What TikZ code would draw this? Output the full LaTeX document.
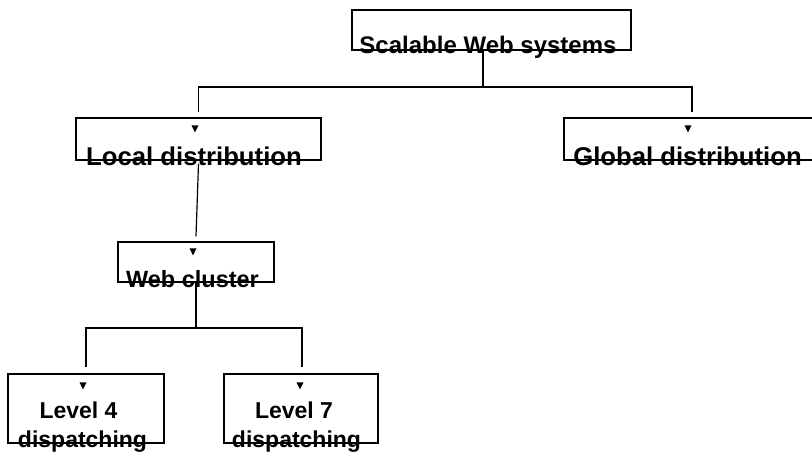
\documentclass[tikz,border=0pt]{standalone}
\usepackage{fontspec}
\setmainfont{Liberation Sans}
\usepackage{tikz}
\usetikzlibrary{positioning, calc}

\begin{document}
\begin{tikzpicture}[x=1pt, y=-1pt,
    box/.style={draw, line width=1.2pt, inner sep=0pt},
    lbl/.style={anchor=base, inner sep=0pt, font=\bfseries},
    link/.style={line width=1.2pt},
    tipmark/.style={fill=black}]
  \useasboundingbox (0,0) rectangle (812,452);

  % Root
  \node[box, minimum width=279pt, minimum height=40pt] (root) at (491.5,30) {};
  \node[lbl, font=\bfseries\fontsize{24}{28}\selectfont] (roottxt) at (488,54) {Scalable Web systems};

  % Local / global distribution
  \node[box, minimum width=245pt, minimum height=42pt] (loc) at (198.5,139) {};
  \node[lbl, font=\bfseries\fontsize{25.7}{30}\selectfont] (loctxt) at (194,165) {Local distribution};

  \node[box, minimum width=251pt, minimum height=42pt] (glob) at (689.5,139) {};
  \node[lbl, font=\bfseries\fontsize{25.7}{30}\selectfont] (globtxt) at (687.5,165) {Global distribution};

  % Web cluster
  \node[box, minimum width=156pt, minimum height=40pt] (clu) at (196,262) {};
  \node[lbl, font=\bfseries\fontsize{23.5}{28}\selectfont] (clutxt) at (192.5,287) {Web cluster};

  % Dispatching levels
  \node[box, minimum width=156pt, minimum height=69pt] (lv4) at (86,408.5) {};
  \node[lbl, font=\bfseries\fontsize{23}{28}\selectfont] (lv4a) at (78.5,418.5) {Level 4};
  \node[lbl, font=\bfseries\fontsize{23}{28}\selectfont] (lv4b) at (82.5,447) {dispatching};

  \node[box, minimum width=154pt, minimum height=69pt] (lv7) at (301,408.5) {};
  \node[lbl, font=\bfseries\fontsize{23}{28}\selectfont] (lv7a) at (294,418.5) {Level 7};
  \node[lbl, font=\bfseries\fontsize{23}{28}\selectfont] (lv7b) at (296.5,447) {dispatching};

  % Connectors
  \coordinate (split1) at (483,87);
  \coordinate (split2) at (196,328);
  \draw[link] ([xshift=-8.5pt]root.south) -- (split1);
  \draw[link] (split1) -| ([yshift=5pt]loc.north);
  \draw[link] (split1) -| ([xshift=2.5pt,yshift=5pt]glob.north);
  \draw[link] ([yshift=-3pt]loc.south) -- ([yshift=5pt]clu.north);
  \draw[link] (clu.south) -- (split2);
  \draw[link] (split2) -| ([yshift=6pt]lv4.north);
  \draw[link] (split2) -| ([xshift=1pt,yshift=6pt]lv7.north);

  % Arrow heads inside the boxes
  \fill[tipmark] ([xshift=-7pt,yshift=-8pt]loc.north) -- ++(7,0) -- ++(-3.5,7) -- cycle;
  \fill[tipmark] ([xshift=-5pt,yshift=-8pt]glob.north) -- ++(7,0) -- ++(-3.5,7) -- cycle;
  \fill[tipmark] ([xshift=-6.5pt,yshift=-7pt]clu.north) -- ++(7,0) -- ++(-3.5,7) -- cycle;
  \fill[tipmark] ([xshift=-6.5pt,yshift=-9pt]lv4.north) -- ++(7,0) -- ++(-3.5,7) -- cycle;
  \fill[tipmark] ([xshift=-4.5pt,yshift=-9pt]lv7.north) -- ++(7,0) -- ++(-3.5,7) -- cycle;
\end{tikzpicture}
\end{document}
